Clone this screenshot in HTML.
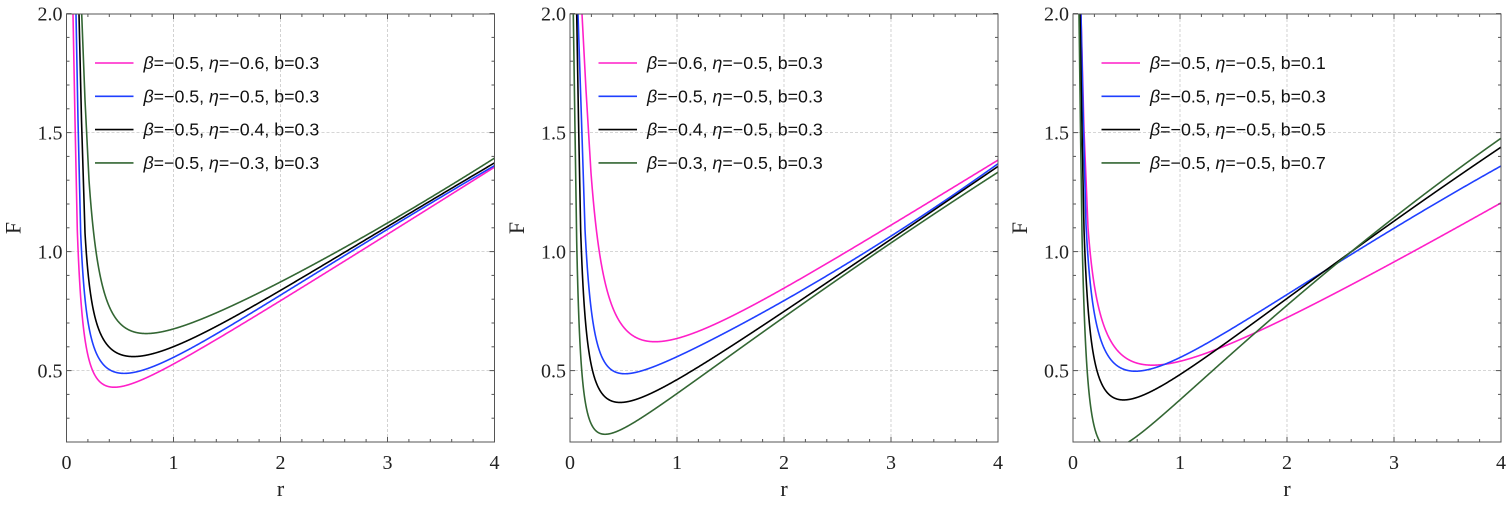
<!DOCTYPE html>
<html><head><meta charset="utf-8"><style>
html,body{margin:0;padding:0;background:#fff;width:1508px;height:508px;overflow:hidden;}
svg{display:block;}
</style></head><body>
<svg id="s" width="1508" height="508" xmlns="http://www.w3.org/2000/svg"></svg>
<script>
const S=document.getElementById('s');
const NS='http://www.w3.org/2000/svg';
function el(t,a,txt){const e=document.createElementNS(NS,t);for(const k in a)e.setAttribute(k,a[k]);if(txt!==undefined)e.textContent=txt;S.appendChild(e);return e;}
const T=14,B=442,U=107;
function Y(F){return 442-238*(F-0.2);}
const basis=r=>[1,r,1/r,1/(r*r),1/(r*r*r),r*r];
function fit(pts,w){
 const n=6,M=[];for(let i=0;i<n;i++){M.push(new Array(n+1).fill(0));}
 pts.forEach(([r,F],k)=>{const b=basis(r),wk=w[k];for(let i=0;i<n;i++){for(let j=0;j<n;j++)M[i][j]+=wk*b[i]*b[j];M[i][n]+=wk*b[i]*F;}});
 for(let i=0;i<n;i++)M[i][i]+=1e-9*(M[i][i]+1);
 for(let i=0;i<n;i++){let p=i;for(let k=i+1;k<n;k++)if(Math.abs(M[k][i])>Math.abs(M[p][i]))p=k;[M[i],M[p]]=[M[p],M[i]];
  for(let k=0;k<n;k++){if(k==i)continue;const f=M[k][i]/M[i][i];for(let j=i;j<=n;j++)M[k][j]-=f*M[i][j];}}
 const c=M.map((row,i)=>row[n]/row[i]);
 return r=>{const b=basis(r);let s=0;for(let i=0;i<n;i++)s+=c[i]*b[i];return s;};}
const cols=['#ff1fc8','#1f3fff','#000000','#336633'];
const panels=[
 {x0:66.5,leg:[['−0.5','−0.6','0.3'],['−0.5','−0.5','0.3'],['−0.5','−0.4','0.3'],['−0.5','−0.3','0.3']],
  c:[
  [[73,14],[75,120],[77.3,252],[81,310],[86,340],[97,370],[110,383],[127,386],[150,380],[173,367],[210,347],[280,299],[387,234],[494,168]],
  [[76,14],[78,120],[80.7,252],[85,305],[91,335],[103,358],[116,369],[132,373],[155,369],[173,360],[210,342],[280,293],[387,230],[494,166]],
  [[79,14],[81.5,120],[85,252],[90,295],[97,320],[110,342],[125,353],[142,357],[160,354],[180,346],[210,333],[280,288],[387,228],[494,163]],
  [[81.7,14],[85,100],[89,180],[95,252],[106,300],[120,320],[140,330],[160,332],[185,328],[210,319],[280,282],[387,222],[494,159]]]},
 {x0:570,leg:[['−0.6','−0.5','0.3'],['−0.5','−0.5','0.3'],['−0.4','−0.5','0.3'],['−0.3','−0.5','0.3']],
  c:[
  [[582,14],[586,90],[591,170],[598,252],[612,300],[628,328],[640,338],[655,344],[677,339],[720,318],[784,289],[890,225],[997,161]],
  [[578,14],[581.5,120],[585,252],[590,305],[597,335],[610,360],[622,370],[637,373],[660,367],[677,360],[720,338],[784,302],[890,233],[997,166]],
  [[576.7,14],[578.5,120],[580.7,252],[585,320],[592,365],[602,390],[618,403],[635,400],[660,390],[677,383],[720,360],[784,311],[890,238],[997,168]],
  [[573.3,14],[575,130],[576.7,252],[580,340],[585,395],[592,425],[601.7,436],[615,432],[640,417],[677,392],[720,362],[784,318],[890,243],[997,173]]]},
 {x0:1073,leg:[['−0.5','−0.5','0.1'],['−0.5','−0.5','0.3'],['−0.5','−0.5','0.5'],['−0.5','−0.5','0.7']],
  c:[
  [[1081,14],[1084,130],[1088,252],[1094,288],[1100,305],[1115,335],[1135,358],[1158,368],[1180,366],[1218,352],[1287,316],[1394,260],[1501,204]],
  [[1081,14],[1083.5,130],[1086,252],[1092,300],[1100,330],[1115,360],[1138,373],[1160,368],[1185,358],[1218,340],[1287,292],[1394,229],[1501,166]],
  [[1080,14],[1082,130],[1084,252],[1090,330],[1098,370],[1110,392],[1126,400],[1145,398],[1180,375],[1218,347],[1287,297],[1394,222],[1501,147]],
  [[1079,14],[1080.5,130],[1082,252],[1086,350],[1092,410],[1100,440],[1112,450],[1125,447],[1150,425],[1180,397],[1218,363],[1287,303],[1394,221],[1501,137]]]}
];
panels.forEach((p,pi)=>{
 const x0=p.x0,x1=x0+4*U;
 const cid='c'+pi;
 const cp=el('clipPath',{id:cid});const r=document.createElementNS(NS,'rect');
 r.setAttribute('x',x0);r.setAttribute('y',T);r.setAttribute('width',4*U);r.setAttribute('height',B-T);cp.appendChild(r);
 for(let i=1;i<=3;i++)el('line',{x1:x0+i*U,x2:x0+i*U,y1:T,y2:B,stroke:'#c8c8c8','stroke-width':0.8,'stroke-dasharray':'3,2'});
 [0.5,1,1.5].forEach(f=>el('line',{x1:x0,x2:x1,y1:Y(f),y2:Y(f),stroke:'#c8c8c8','stroke-width':0.8,'stroke-dasharray':'3,2'}));
 p.c.forEach((pts,i)=>{
  const rp=pts.map(([x,y])=>[(x-x0)/U,0.2+(442-y)/238]);
  let mi=0;rp.forEach((q,k)=>{if(q[1]<rp[mi][1])mi=k;});
  const w=rp.map((q,k)=>(k>=rp.length-3||Math.abs(k-mi)<=1)?4:1);
  const f=fit(rp,w);
  const r2=rp[2][0];
  // wall: straight lines through first data points
  let d='M'+(pts[0][0]-0.6)+',0 L'+pts[0][0]+','+pts[0][1]+' L'+pts[1][0]+','+pts[1][1];
  const v2=f(r2);
  // blend toward fit from pts[1] to r2
  d+=' L'+pts[2][0]+','+Y(v2).toFixed(2);
  for(let rr=r2+0.002;rr<=4.001;rr+=0.002){const v=f(rr);
   d+=' L'+(x0+rr*U).toFixed(2)+','+Y(v).toFixed(2);}
  el('path',{d:d,fill:'none',stroke:cols[i],'stroke-width':1.6,'stroke-linejoin':'round','clip-path':'url(#'+cid+')'});
 });
 el('rect',{x:x0,y:T,width:4*U,height:B-T,fill:'none',stroke:'#555','stroke-width':1});
 for(let k=0;k<=20;k++){const x=x0+k*U/5,L=(k%5==0)?5:3;
  el('line',{x1:x,x2:x,y1:B,y2:B-L,stroke:'#555'});el('line',{x1:x,x2:x,y1:T,y2:T+L,stroke:'#555'});}
 for(let k=2;k<=20;k++){const y=Y(k/10),L=(k%5==0)?5:3;
  el('line',{x1:x0,x2:x0+L,y1:y,y2:y,stroke:'#555'});el('line',{x1:x1,x2:x1-L,y1:y,y2:y,stroke:'#555'});}
 const ser='font-family:"Liberation Serif",serif;font-size:20px;fill:#222';
 for(let i=0;i<=4;i++)el('text',{x:x0+i*U,y:469,'text-anchor':'middle',style:ser},String(i));
 [['0.5',0.5],['1.0',1],['1.5',1.5],['2.0',2]].forEach(([t,f])=>el('text',{x:x0-4,y:Y(f)+7,'text-anchor':'end',style:ser},t));
 el('text',{x:x0+2*U,y:496,'text-anchor':'middle',style:'font-family:"Liberation Serif",serif;font-size:22px;fill:#222'},'r');
 el('text',{x:0,y:0,transform:'translate('+(x0-46)+',228) rotate(-90)','text-anchor':'middle',style:'font-family:"Liberation Serif",serif;font-size:22px;fill:#222'},'F');
 p.leg.forEach((l,i)=>{const y=63+i*33.3;
  el('line',{x1:x0+28.5,x2:x0+67,y1:y,y2:y,stroke:cols[i],'stroke-width':1.6});
  const t=el('text',{x:x0+77,y:y+6,style:'font-family:"Liberation Sans",sans-serif;font-size:17.8px;fill:#111'});
  t.innerHTML='<tspan font-style="italic">β</tspan>='+l[0]+', <tspan font-style="italic">η</tspan>='+l[1]+', b='+l[2];
 });
});
</script>
</body></html>
